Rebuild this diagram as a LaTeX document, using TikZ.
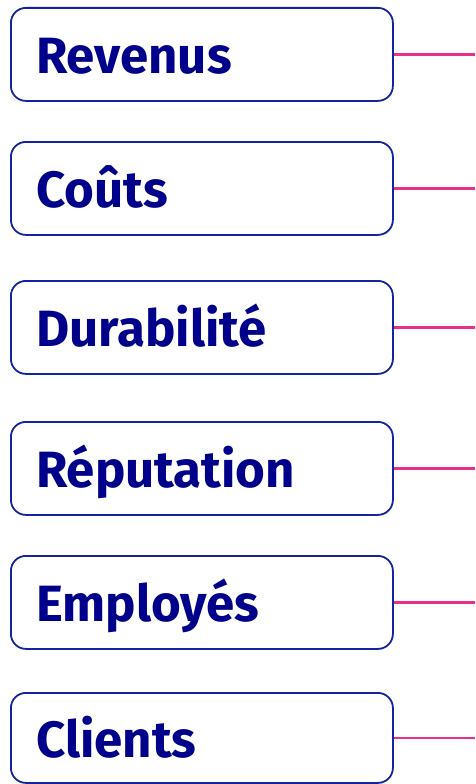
\documentclass[tikz,border=0pt]{standalone}
\usepackage{fontspec}
\setmainfont{Fira Sans}
\definecolor{boxblue}{RGB}{20,36,160}
\definecolor{txtnavy}{RGB}{0,0,139}
\definecolor{linkpink}{RGB}{230,48,140}
\begin{document}
\begin{tikzpicture}[x=1pt,y=-1pt,
  itembox/.style={draw=boxblue, line width=1.8pt, rounded corners=15pt, fill=white},
  itemtext/.style={anchor=base west, inner sep=0pt, text=txtnavy, font=\fontsize{51}{51}\selectfont\bfseries},
  link/.style={draw=linkpink, line width=2.4pt}]
\useasboundingbox (0,0) rectangle (475,784);
\foreach \name/\txt/\top/\bot in {a/Revenus/7/100, b/Coûts/141/234, c/Durabilité/280/373, d/Réputation/421/514, e/Employés/555/648, f/Clients/692/782}{
  \node[itembox, minimum width=382pt, minimum height={\bot-\top}, anchor=north west] (\name) at (10,\top) {};
  \node[itemtext] (\name t) at ([xshift=26pt,yshift=-19.5pt]\name.west) {\txt};
  \coordinate (\name e) at (\name.east -| 475,0);
  \draw[link] (\name.east) -- (\name e);
}
\end{tikzpicture}
\end{document}
